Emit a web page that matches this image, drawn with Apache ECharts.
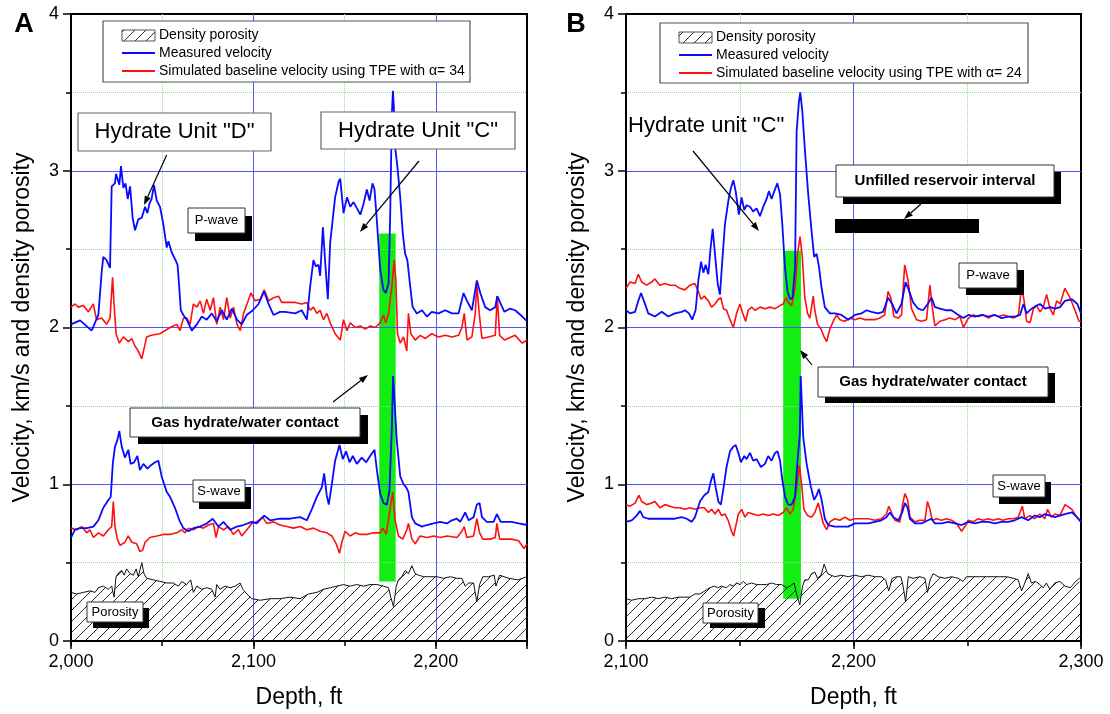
<!DOCTYPE html>
<html><head><meta charset="utf-8">
<script src="https://cdn.jsdelivr.net/npm/echarts@6/dist/echarts.min.js"></script>
<style>html,body{margin:0;padding:0;background:#fff}#c{width:1110px;height:714px}</style>
</head><body><div id="c"></div><script>
// ---------- DATA (depth ft, value) ----------
const A_P_MEAS=[[2000,2.02],[2005,2.045],[2011.3,1.98],[2015,2.08],[2016.8,2.35],[2017.7,2.45],[2019.5,2.43],[2021.4,2.38],[2022.3,2.9],[2024.1,2.92],[2024.7,2.98],[2026.5,2.91],[2027.4,3.03],[2028.7,2.89],[2029.9,2.92],[2031.1,2.82],[2032.4,2.9],[2033.8,2.7],[2035.1,2.62],[2036.9,2.69],[2038.8,2.7],[2040.6,2.77],[2041.9,2.73],[2043,2.79],[2044.2,2.82],[2045.5,2.91],[2047,2.81],[2048.8,2.77],[2050.6,2.66],[2052.5,2.51],[2053.4,2.55],[2055.2,2.48],[2057.3,2.43],[2058.4,2.4],[2059.2,2.28],[2060.2,2.11],[2061.6,2.08],[2063.5,2.05],[2066.2,1.98],[2069,2.02],[2071.7,2.07],[2074.4,2.05],[2077.2,2.09],[2079.9,2.04],[2082.7,2.11],[2085.4,2.05],[2088.2,2.12],[2091,2.05],[2093.6,2.02],[2096.3,2.08],[2099.7,2.11],[2102.8,2.15],[2105.9,2.23],[2108.3,2.15],[2111,2.08],[2114.6,2.1],[2117.4,2.1],[2122.9,2.09],[2126.5,2.11],[2129.3,2.05],[2131.1,2.26],[2132.9,2.43],[2134.2,2.39],[2135.7,2.4],[2136.6,2.33],[2138.1,2.64],[2139.4,2.41],[2140.8,2.18],[2142.1,2.54],[2143.4,2.68],[2144.8,2.83],[2146.7,2.93],[2147.6,2.95],[2149.4,2.73],[2151.3,2.83],[2153.1,2.77],[2154.9,2.8],[2156.8,2.76],[2158.6,2.72],[2160.4,2.79],[2162.2,2.88],[2163.7,2.81],[2165.3,2.92],[2166.4,2.88],[2167.7,2.68],[2169.5,2.37],[2171.3,2.24],[2172.6,2.22],[2174.1,2.28],[2175,2.72],[2175.9,3.36],[2176.5,3.51],[2177.3,3.34],[2177.9,3.13],[2179,3.02],[2180.5,2.83],[2181.9,2.6],[2183.2,2.47],[2184.4,2.43],[2186,2.26],[2187.3,2.13],[2189.6,2.09],[2192.4,2.11],[2195.1,2.07],[2197.8,2.1],[2201.5,2.09],[2205.2,2.11],[2208.8,2.09],[2212.5,2.09],[2215.2,2.22],[2217.1,2.17],[2219.8,2.11],[2222.5,2.3],[2224.4,2.22],[2227.1,2.13],[2229.8,2.11],[2232.6,2.13],[2233.7,2.2],[2237.6,2.1],[2240.5,2.12],[2243.5,2.11],[2247.4,2.07],[2250,2.04]];
const A_P_SIM=[[2000,2.13],[2002.2,2.15],[2004,2.13],[2006.8,2.14],[2009.5,2.1],[2012.2,2.15],[2014,2.05],[2016.8,2.06],[2019.5,2.02],[2021.4,2.06],[2022.8,2.32],[2023.6,2.15],[2024.7,1.96],[2026.5,1.9],[2028.7,1.94],[2031.5,1.91],[2033.3,1.93],[2035.1,1.88],[2036.4,1.86],[2038.8,1.8],[2041.5,1.94],[2044,1.95],[2048.8,1.96],[2054.3,2.0],[2057.9,2.02],[2059.8,1.98],[2061.6,2.06],[2063.5,2.06],[2065.3,2.02],[2067.1,2.15],[2069,2.13],[2070.8,2.17],[2072.6,2.09],[2074.4,2.18],[2076.3,2.11],[2078.1,2.19],[2079.9,2.02],[2081.8,2.13],[2083.6,2.05],[2085.4,2.19],[2087.3,2.06],[2089.1,2.13],[2091,2.02],[2092.8,1.98],[2094.6,2.09],[2096.5,2.15],[2098.6,2.22],[2101,2.17],[2103.7,2.18],[2105.9,2.24],[2108.3,2.17],[2111,2.19],[2113.8,2.2],[2115.5,2.16],[2119.2,2.16],[2122.9,2.16],[2126.5,2.15],[2129.3,2.16],[2131.1,2.11],[2132.9,2.13],[2134.8,2.09],[2136.6,2.11],[2138.4,2.05],[2140.3,2.09],[2142.1,2.03],[2144.8,1.96],[2147.6,1.92],[2149.4,2.05],[2151.3,1.98],[2153.1,2.03],[2155.8,2.0],[2158.6,2.01],[2161.3,1.99],[2164.1,2.01],[2166.8,2.0],[2169.5,2.03],[2171.3,2.08],[2172.6,2.03],[2174.1,2.09],[2175.9,2.26],[2177.2,2.43],[2178.1,2.3],[2179,1.96],[2180.5,1.9],[2182.3,1.94],[2184.1,1.85],[2185,2.09],[2186.3,1.96],[2188.7,1.92],[2191.5,1.95],[2194.2,1.93],[2197.8,1.96],[2201.5,1.94],[2205.2,1.95],[2208.8,1.94],[2212.5,1.95],[2214.3,2.0],[2215.6,2.09],[2217.1,1.92],[2219.8,1.94],[2221.6,2.09],[2222.5,2.27],[2223.8,2.09],[2225.3,1.93],[2228.9,1.94],[2232.6,1.95],[2233.7,2.2],[2235,1.95],[2237.6,1.92],[2243.5,1.95],[2247.4,1.9],[2250,1.92]];
const A_S_MEAS=[[2000,0.66],[2002.2,0.71],[2004.9,0.72],[2008.6,0.72],[2012.3,0.73],[2015,0.77],[2017.7,0.85],[2020.5,0.9],[2021.8,0.92],[2022.9,1.13],[2024.1,1.24],[2025.4,1.28],[2026.5,1.34],[2027.8,1.24],[2029.6,1.17],[2031.4,1.22],[2032.7,1.13],[2034.6,1.14],[2036.4,1.18],[2037.8,1.09],[2039.7,1.13],[2041.9,1.1],[2043.7,1.12],[2046.1,1.14],[2047.9,1.15],[2049.7,1.05],[2052.5,0.95],[2054.3,0.92],[2057,0.85],[2059.4,0.77],[2061.6,0.72],[2064.4,0.7],[2067.1,0.72],[2070.8,0.73],[2074.4,0.75],[2077.7,0.78],[2080.8,0.73],[2083.6,0.76],[2087.2,0.71],[2090.9,0.73],[2094.5,0.74],[2099.1,0.76],[2101.8,0.75],[2105.9,0.8],[2109.2,0.77],[2114.6,0.78],[2120.1,0.78],[2125.6,0.79],[2129.3,0.77],[2132,0.84],[2134.8,0.92],[2137.5,0.98],[2138.8,1.07],[2140.2,0.93],[2141.3,0.87],[2143,1.0],[2144.8,1.15],[2147.2,1.25],[2149,1.16],[2150.8,1.21],[2152.7,1.14],[2154.5,1.18],[2156.7,1.13],[2159.4,1.17],[2161.8,1.14],[2164,1.18],[2166.4,1.22],[2167.7,1.09],[2169.5,0.94],[2171.3,0.88],[2173.2,0.87],[2174.6,0.96],[2175.9,1.36],[2176.6,1.69],[2178.6,1.28],[2180.5,1.05],[2182.3,1.0],[2183.8,0.98],[2185,0.95],[2186.9,0.79],[2188.7,0.75],[2192.4,0.73],[2195.1,0.74],[2198.8,0.75],[2202.4,0.76],[2206.1,0.75],[2208.8,0.77],[2211.6,0.78],[2213.4,0.76],[2216.1,0.82],[2218,0.77],[2220.7,0.79],[2222.5,0.87],[2224,0.88],[2225.3,0.79],[2228,0.76],[2231.7,0.76],[2233.5,0.81],[2235.6,0.76],[2241.5,0.76],[2245.4,0.75],[2250,0.74]];
const A_S_SIM=[[2000,0.72],[2003.1,0.71],[2005.9,0.73],[2008.6,0.69],[2010.4,0.71],[2012.3,0.66],[2015,0.69],[2017.7,0.67],[2020.5,0.71],[2022.3,0.73],[2023.2,0.89],[2024.1,0.73],[2025.4,0.65],[2026.9,0.61],[2029.6,0.63],[2031.4,0.67],[2033.3,0.63],[2036,0.62],[2037.8,0.57],[2039.3,0.58],[2040.6,0.63],[2043.3,0.66],[2047,0.67],[2050.6,0.68],[2054.3,0.68],[2058,0.69],[2060.7,0.71],[2062.5,0.69],[2064.4,0.72],[2067.1,0.71],[2069.8,0.73],[2072.6,0.72],[2075.3,0.74],[2078.1,0.75],[2079.5,0.66],[2080.8,0.73],[2083.6,0.71],[2086.3,0.73],[2089,0.68],[2091.8,0.71],[2093.6,0.67],[2096.4,0.71],[2099.1,0.75],[2101.8,0.76],[2105.1,0.79],[2107.3,0.75],[2111,0.76],[2114.6,0.74],[2118.3,0.73],[2122,0.72],[2125.6,0.73],[2129.3,0.71],[2132.9,0.72],[2136.6,0.7],[2140.2,0.69],[2143,0.67],[2145.4,0.62],[2147.2,0.56],[2148.5,0.63],[2150.3,0.7],[2153,0.67],[2155.8,0.69],[2158.5,0.68],[2162.2,0.68],[2165.8,0.69],[2169.5,0.69],[2171,0.72],[2172.8,0.68],[2175,0.85],[2176.4,0.95],[2177.7,0.77],[2179.5,0.67],[2181.9,0.65],[2184.1,0.71],[2185,0.75],[2186.9,0.65],[2188.7,0.62],[2191.4,0.67],[2195.1,0.66],[2198.8,0.67],[2202.4,0.66],[2206.1,0.67],[2211.6,0.66],[2214.3,0.7],[2215.6,0.73],[2217,0.66],[2220.7,0.67],[2222.5,0.78],[2224,0.69],[2225.8,0.65],[2229.8,0.65],[2232.6,0.66],[2233.5,0.75],[2235,0.65],[2241.5,0.65],[2245.4,0.64],[2248.4,0.59],[2250,0.62]];
const A_POR=[[2000,0.31],[2003.1,0.3],[2006.8,0.31],[2010.4,0.32],[2013.2,0.31],[2015,0.34],[2017.7,0.35],[2020.5,0.33],[2022.3,0.35],[2023.6,0.28],[2024.7,0.41],[2026.5,0.44],[2027.8,0.45],[2029.1,0.42],[2030.5,0.46],[2032.4,0.43],[2034.2,0.42],[2035.7,0.46],[2036.9,0.41],[2038.8,0.5],[2040,0.43],[2041.5,0.4],[2045.2,0.39],[2048.8,0.38],[2052.5,0.37],[2056.1,0.37],[2058.9,0.35],[2060.7,0.38],[2063.4,0.36],[2065.6,0.39],[2067.1,0.31],[2068.9,0.35],[2071.7,0.33],[2074.4,0.34],[2077.2,0.33],[2079,0.28],[2079.9,0.36],[2081.7,0.33],[2084.5,0.35],[2087.2,0.34],[2090,0.35],[2092.7,0.37],[2094.2,0.33],[2096.4,0.3],[2099.1,0.27],[2103.7,0.26],[2109.2,0.27],[2114.6,0.27],[2120.1,0.28],[2125.6,0.27],[2130.2,0.3],[2134.8,0.31],[2138.4,0.33],[2142.1,0.34],[2145.7,0.35],[2149.4,0.36],[2153,0.35],[2156.7,0.36],[2160.4,0.35],[2164,0.36],[2167.7,0.36],[2171.3,0.35],[2174.1,0.34],[2175.3,0.28],[2176.8,0.22],[2178.3,0.35],[2179.5,0.39],[2181.4,0.41],[2183.2,0.45],[2185,0.43],[2186.9,0.48],[2188.7,0.43],[2190.5,0.42],[2193.3,0.41],[2196.9,0.41],[2200.6,0.41],[2204.2,0.4],[2207.9,0.41],[2211.6,0.4],[2214.3,0.4],[2216.1,0.35],[2218,0.37],[2220.7,0.37],[2222.5,0.25],[2224,0.36],[2225.8,0.41],[2228.9,0.41],[2232,0.42],[2233,0.35],[2235,0.42],[2240,0.4],[2245,0.39],[2250,0.41]];

const B_P_MEAS=[[2100,2.11],[2101.8,2.09],[2104,2.1],[2105.4,2.17],[2106.6,2.22],[2108.1,2.16],[2109.8,2.09],[2112.7,2.07],[2115.7,2.1],[2118.6,2.07],[2121.5,2.09],[2124.5,2.1],[2125.9,2.11],[2127.7,2.09],[2129.1,2.05],[2130.6,2.11],[2131.8,2.3],[2133,2.42],[2134,2.35],[2135,2.4],[2136.2,2.34],[2137.2,2.51],[2138.1,2.63],[2139.1,2.47],[2140.3,2.28],[2141.3,2.21],[2142.3,2.42],[2143.5,2.66],[2145,2.81],[2146.1,2.89],[2147.2,2.94],[2148.2,2.87],[2149.6,2.72],[2150.8,2.83],[2152,2.75],[2153,2.78],[2154.5,2.77],[2155.9,2.74],[2157.4,2.76],[2158.9,2.71],[2160.3,2.77],[2161.8,2.82],[2162.8,2.87],[2164,2.82],[2165.2,2.87],[2166.5,2.92],[2167.7,2.85],[2168.7,2.66],[2169.9,2.38],[2171,2.23],[2172.1,2.18],[2173.2,2.19],[2174.3,2.38],[2175,3.25],[2176,3.44],[2176.6,3.5],[2177.5,3.38],[2178.6,3.14],[2180.1,2.85],[2181.6,2.61],[2182.7,2.45],[2183.8,2.47],[2184.8,2.39],[2186,2.25],[2187.4,2.13],[2189.6,2.09],[2191.8,2.09],[2194.7,2.08],[2197.7,2.05],[2200.6,2.08],[2203.5,2.09],[2205.7,2.11],[2207.9,2.1],[2210.8,2.09],[2213,2.1],[2215.2,2.19],[2217,2.15],[2218.9,2.09],[2221.1,2.15],[2222.9,2.29],[2224.3,2.24],[2226.2,2.16],[2228.4,2.12],[2230.6,2.11],[2233.1,2.16],[2234.3,2.19],[2235.8,2.13],[2238,2.12],[2240.9,2.11],[2243.1,2.11],[2246.1,2.08],[2248.3,2.06],[2250.5,2.08],[2253.4,2.07],[2256.4,2.08],[2259.3,2.07],[2262.2,2.08],[2265.1,2.06],[2268.1,2.07],[2271,2.07],[2273.2,2.08],[2274.7,2.15],[2276.1,2.09],[2278.3,2.12],[2280.5,2.14],[2282,2.15],[2284.2,2.12],[2286.4,2.13],[2288.6,2.12],[2290.8,2.13],[2292.9,2.17],[2296,2.18],[2298.4,2.15],[2300,2.09]];
const B_P_SIM=[[2100,2.25],[2101.8,2.29],[2104,2.28],[2105.4,2.34],[2106.9,2.29],[2109.1,2.27],[2111.3,2.29],[2112.7,2.31],[2114.9,2.27],[2117.1,2.28],[2119.3,2.27],[2121.5,2.27],[2123.7,2.25],[2125.9,2.24],[2128.1,2.27],[2130.3,2.28],[2131.8,2.23],[2133,2.18],[2134.4,2.2],[2136.2,2.17],[2137.6,2.13],[2139.1,2.15],[2140.6,2.18],[2141.7,2.19],[2142.8,2.12],[2144.2,2.11],[2145.7,2.05],[2147.2,2.0],[2148.6,2.09],[2150.1,2.15],[2151.3,2.09],[2152.6,2.04],[2153.7,2.11],[2155.2,2.13],[2156.7,2.11],[2158.9,2.13],[2161.1,2.12],[2163.3,2.13],[2165.5,2.12],[2167.7,2.14],[2169.1,2.15],[2170.3,2.19],[2171.3,2.16],[2172.8,2.14],[2174.3,2.25],[2175.4,2.47],[2176.5,2.58],[2177.5,2.45],[2178.6,2.19],[2179.8,2.09],[2180.8,2.06],[2182.3,2.2],[2183,2.11],[2184.2,2.02],[2185.7,1.99],[2187.1,1.94],[2188.2,1.91],[2189.6,1.99],[2191.1,2.04],[2192.6,2.08],[2194,2.05],[2196.2,2.04],[2198.4,2.06],[2200.6,2.05],[2202.8,2.06],[2205,2.05],[2207.2,2.05],[2209.4,2.05],[2211.5,2.06],[2213.7,2.08],[2215.2,2.23],[2216.4,2.19],[2217.8,2.07],[2219.6,2.06],[2221.1,2.08],[2222.5,2.4],[2224,2.3],[2225.5,2.12],[2227.7,2.05],[2229.9,2.04],[2232.1,2.05],[2233.6,2.27],[2234.6,2.13],[2235.8,2.01],[2238,2.04],[2240.2,2.05],[2242.4,2.06],[2244.6,2.05],[2246.8,2.07],[2248.3,2.0],[2250.5,2.06],[2252.7,2.08],[2254.9,2.07],[2257.1,2.08],[2259.3,2.06],[2261.5,2.08],[2263.7,2.07],[2265.9,2.08],[2268.1,2.07],[2270.3,2.06],[2272.5,2.08],[2273.9,2.26],[2275,2.17],[2276.1,2.04],[2277.6,2.03],[2279.1,2.12],[2280.5,2.14],[2282,2.1],[2283.4,2.13],[2284.9,2.21],[2286.4,2.12],[2287.8,2.08],[2289.3,2.17],[2290.8,2.15],[2292.9,2.25],[2295.2,2.19],[2297.6,2.1],[2299.1,2.04],[2300,2.04]];
const B_S_MEAS=[[2100,0.76],[2102.5,0.77],[2104.7,0.8],[2106.2,0.83],[2107.6,0.79],[2109.8,0.78],[2112.7,0.78],[2115.7,0.78],[2118.6,0.78],[2121.5,0.78],[2124.5,0.79],[2126.7,0.78],[2128.9,0.76],[2130.3,0.79],[2132.5,0.89],[2134.4,0.93],[2136.2,0.95],[2137.3,1.02],[2138.4,1.07],[2139.4,0.98],[2140.6,0.89],[2141.7,0.87],[2142.9,0.98],[2144.2,1.11],[2145.7,1.21],[2147.2,1.24],[2148.2,1.25],[2149.4,1.2],[2150.5,1.14],[2152,1.18],[2153,1.16],[2154.5,1.2],[2155.9,1.15],[2157.4,1.16],[2159.3,1.11],[2161.1,1.13],[2162.5,1.18],[2164,1.15],[2165.5,1.2],[2166.6,1.21],[2167.7,1.15],[2168.7,1.03],[2169.9,0.92],[2171.3,0.87],[2172.8,0.87],[2174.3,0.92],[2175.4,1.15],[2176.4,1.32],[2176.8,1.69],[2177.9,1.3],[2179.4,1.13],[2181.3,0.98],[2182.7,0.9],[2183.8,0.93],[2184.8,0.97],[2186,0.9],[2187.4,0.78],[2188.9,0.74],[2191.8,0.73],[2194.8,0.73],[2197.7,0.73],[2200.6,0.75],[2203.5,0.75],[2206.5,0.75],[2209.4,0.76],[2212.3,0.77],[2214.5,0.79],[2216,0.82],[2217.5,0.79],[2219.7,0.77],[2221.4,0.82],[2222.6,0.88],[2223.8,0.85],[2224.8,0.78],[2227,0.75],[2229.9,0.75],[2232.8,0.77],[2234.3,0.78],[2235.8,0.75],[2238.7,0.75],[2241.6,0.76],[2244.6,0.75],[2247.5,0.74],[2250.4,0.76],[2253.3,0.75],[2256.3,0.76],[2259.2,0.76],[2262.1,0.75],[2265.1,0.76],[2268,0.76],[2270.9,0.77],[2273.9,0.79],[2276.8,0.77],[2279.7,0.8],[2281.9,0.79],[2284.1,0.81],[2286.3,0.8],[2288.5,0.79],[2290.7,0.8],[2293,0.81],[2296,0.82],[2298.2,0.79],[2300,0.76]];
const B_S_SIM=[[2100,0.87],[2101.8,0.86],[2104,0.88],[2105.7,0.93],[2106.9,0.89],[2109.1,0.87],[2111.3,0.88],[2112.7,0.89],[2114.9,0.85],[2117.1,0.87],[2119.3,0.86],[2121.5,0.85],[2123.7,0.85],[2125.9,0.84],[2128.1,0.85],[2130.3,0.84],[2132.5,0.85],[2134.4,0.85],[2136.2,0.82],[2137.6,0.84],[2139.1,0.81],[2140.6,0.84],[2142,0.8],[2143.5,0.81],[2144.9,0.77],[2146.4,0.7],[2147.3,0.67],[2148.2,0.73],[2149.4,0.81],[2150.8,0.84],[2152.3,0.79],[2153.7,0.82],[2155.9,0.81],[2158.1,0.8],[2160.3,0.81],[2162.5,0.8],[2164.7,0.81],[2166.9,0.8],[2169.1,0.82],[2170.6,0.85],[2172.1,0.81],[2173.5,0.84],[2175,0.98],[2176.2,1.12],[2177.2,1.0],[2178.2,0.84],[2179.8,0.8],[2181.6,0.79],[2183,0.82],[2184.5,0.88],[2185.7,0.81],[2186.7,0.75],[2188.2,0.71],[2189.6,0.76],[2191.8,0.78],[2194,0.77],[2196.2,0.79],[2198.4,0.77],[2200.6,0.78],[2203.5,0.78],[2206.5,0.78],[2209.4,0.77],[2212.3,0.78],[2214.5,0.81],[2215.5,0.86],[2216.7,0.82],[2218.2,0.77],[2220.4,0.76],[2221.7,0.88],[2222.6,0.94],[2223.8,0.9],[2224.8,0.79],[2227,0.76],[2229.2,0.77],[2231.4,0.77],[2232.5,0.89],[2233.6,0.84],[2234.6,0.77],[2236.5,0.78],[2238.7,0.77],[2240.9,0.78],[2243.1,0.77],[2245.3,0.75],[2247.5,0.7],[2249,0.73],[2250.4,0.77],[2252.6,0.76],[2254.8,0.78],[2257,0.77],[2259.2,0.78],[2261.4,0.77],[2263.6,0.78],[2265.8,0.77],[2268,0.78],[2270.2,0.78],[2272.4,0.79],[2274.2,0.86],[2275.3,0.78],[2277.5,0.8],[2279.7,0.78],[2281.9,0.81],[2284.1,0.78],[2285.3,0.84],[2287,0.79],[2288.5,0.81],[2290.7,0.8],[2293,0.87],[2296,0.84],[2298.2,0.79],[2300,0.76]];
const B_POR=[[2100,0.27],[2102.5,0.26],[2105.4,0.27],[2108.3,0.27],[2111.3,0.28],[2114.2,0.27],[2117.1,0.28],[2120.1,0.27],[2123,0.28],[2125.9,0.28],[2128.1,0.28],[2130.3,0.3],[2132.5,0.3],[2134.7,0.32],[2136.9,0.34],[2138.8,0.35],[2140.3,0.34],[2142,0.35],[2144.2,0.34],[2145.7,0.36],[2147.2,0.35],[2148.6,0.37],[2150.1,0.36],[2151.6,0.38],[2153,0.36],[2155.2,0.37],[2157.4,0.36],[2159.6,0.36],[2161.8,0.36],[2164,0.37],[2166.2,0.36],[2168.4,0.36],[2170.6,0.34],[2172.1,0.35],[2173.9,0.37],[2175,0.3],[2176.4,0.23],[2177.6,0.35],[2178.6,0.39],[2180.1,0.39],[2181.6,0.43],[2183,0.44],[2184.2,0.4],[2185.7,0.42],[2187.1,0.49],[2188.6,0.43],[2190.1,0.42],[2191.8,0.41],[2194.8,0.42],[2197.7,0.41],[2200.6,0.42],[2203.5,0.41],[2206.5,0.42],[2209.4,0.41],[2212.3,0.41],[2214.1,0.39],[2215.5,0.32],[2217,0.4],[2218.9,0.41],[2220.8,0.41],[2221.8,0.35],[2222.9,0.25],[2224.1,0.41],[2226.2,0.4],[2229.2,0.41],[2231.4,0.4],[2232.5,0.31],[2233.7,0.39],[2235,0.43],[2237.2,0.41],[2240.2,0.4],[2243.1,0.41],[2246,0.4],[2248.2,0.38],[2249.7,0.41],[2252.6,0.41],[2255.5,0.41],[2258.5,0.41],[2261.4,0.41],[2264.3,0.41],[2267.3,0.41],[2270.2,0.4],[2272.4,0.39],[2273.9,0.32],[2275.3,0.37],[2276.8,0.43],[2278.2,0.37],[2280,0.38],[2281.9,0.36],[2283.4,0.34],[2284.8,0.37],[2286.3,0.33],[2288.5,0.37],[2290.7,0.38],[2293,0.35],[2295.3,0.34],[2297.7,0.38],[2299.3,0.4],[2300,0.41]];

// green contact zones: [depthFrom, valueFrom, depthTo, valueTo]
const A_CONTACT=[2169,0.38,2178,2.6];
const B_CONTACT=[2169.1,0.27,2176.9,2.49];
const X_RANGE_A=[2000,2250], X_RANGE_B=[2100,2300];
const Y_RANGE=[0,4];
const NAME_MEAS='Measured velocity', NAME_POR='Density porosity';
const NAME_SIM_A='Simulated baseline velocity using TPE with \u03b1= 34';
const NAME_SIM_B='Simulated baseline velocity using TPE with \u03b1= 24';

// ---------- STYLE ----------
const FONT="'Liberation Sans', Arial, Helvetica, sans-serif";
const BLUE='#0a0aff', RED='#ff1010', GRIDBLUE='#5555ff', GRIDGREEN='#8fdc8f', GREEN='#12ee12', NONE='rgba(0,0,0,0)';

function hatchCanvas(){
  const c=document.createElement('canvas'); c.width=11; c.height=11;
  const g=c.getContext('2d'); g.strokeStyle='#2a2a2a'; g.lineWidth=1;
  g.beginPath(); g.moveTo(0,11); g.lineTo(11,0); g.moveTo(-1,1); g.lineTo(1,-1); g.moveTo(10,12); g.lineTo(12,10); g.stroke();
  return c;
}
const HATCH=hatchCanvas();
const fmt=v=> (v%100===0)? String(v).replace(/(\d)(?=(\d{3})+$)/g,'$1,') : '';

function yAxis(gi){
  return {type:'value',gridIndex:gi,min:Y_RANGE[0],max:Y_RANGE[1],interval:1,z:2,
    axisLine:{show:true,lineStyle:{color:'#000',width:2}},
    axisTick:{show:true,length:8,lineStyle:{color:'#000',width:1.5}},
    minorTick:{show:true,splitNumber:2,length:5,lineStyle:{color:'#000',width:1.5}},
    axisLabel:{fontSize:18,color:'#000',margin:12,fontFamily:FONT},
    splitLine:{show:true,showMinLine:false,showMaxLine:false,lineStyle:{color:GRIDBLUE,width:1}},
    minorSplitLine:{show:true,lineStyle:{color:GRIDGREEN,width:1,type:'dotted'}},
    name:'Velocity, km/s and density porosity',nameLocation:'middle',nameGap:37,
    nameTextStyle:{fontSize:23,color:'#000',fontFamily:FONT}};
}
function xMajor(gi,r){
  return {type:'value',gridIndex:gi,min:r[0],max:r[1],interval:100,position:'bottom',z:2,
    axisLine:{show:true,onZero:false,lineStyle:{color:'#000',width:2}},
    axisTick:{show:true,length:8,lineStyle:{color:'#000',width:1.5}},
    axisLabel:{fontSize:18,color:'#000',margin:12,fontFamily:FONT,formatter:fmt},
    splitLine:{show:true,showMinLine:false,showMaxLine:false,lineStyle:{color:GRIDBLUE,width:1}},
    name:'Depth, ft',nameLocation:'middle',nameGap:45,
    nameTextStyle:{fontSize:23,color:'#000',fontFamily:FONT}};
}
function xMinor(gi,r){
  // inner lines alternate: half-way lines green dotted, hundred lines left to the major axis
  return {type:'value',gridIndex:gi,min:r[0],max:r[1],interval:50,position:'bottom',offset:0,z:1,
    axisLine:{show:false,onZero:false},axisLabel:{show:false},
    axisTick:{show:true,length:5,lineStyle:{color:'#000',width:1.5}},
    splitLine:{show:true,showMinLine:false,showMaxLine:false,lineStyle:{color:[GRIDGREEN,NONE],width:1,type:'dotted'}}};
}
function ln(name,data,xi,yi,color,w,z){
  return {type:'line',name,data,xAxisIndex:xi,yAxisIndex:yi,symbol:'none',showSymbol:false,
    lineStyle:{color,width:w},itemStyle:{color},z,silent:true};
}
function porArea(data,xi,yi){
  return {type:'line',name:NAME_POR,data,xAxisIndex:xi,yAxisIndex:yi,symbol:'none',z:2,silent:true,
    lineStyle:{width:0,opacity:0},areaStyle:{color:{image:HATCH,repeat:'repeat'},opacity:1,origin:'start'}};
}
function contact(c,xi,yi){
  return {type:'line',data:[[c[0],c[1]]],xAxisIndex:xi,yAxisIndex:yi,symbol:'none',z:3,silent:true,
    markArea:{silent:true,itemStyle:{color:GREEN,opacity:1},data:[[{coord:[c[0],c[1]]},{coord:[c[2],c[3]]}]]}};
}

// ---------- ANNOTATIONS (pixel layout) ----------
const G=[];
function rect(x,y,w,h,fill,stroke,lw){G.push({type:'rect',z:100,shape:{x,y,width:w,height:h},style:{fill,stroke:stroke||null,lineWidth:lw||0}});}
function text(t,x,y,font,align){G.push({type:'text',z:101,style:{text:t,x,y,font,fill:'#000',align:align||'center',verticalAlign:'middle',textAlign:align||'center',textVerticalAlign:'middle'}});}
function arrow(x1,y1,x2,y2){
  const a=Math.atan2(y2-y1,x2-x1),L=9,W=3.2;
  const bx=x2-L*Math.cos(a),by=y2-L*Math.sin(a),px=-Math.sin(a)*W,py=Math.cos(a)*W;
  G.push({type:'line',z:100,shape:{x1,y1,x2:bx,y2:by},style:{stroke:'#000',lineWidth:1.2}});
  G.push({type:'polygon',z:100,shape:{points:[[x2,y2],[bx+px,by+py],[bx-px,by-py]]},style:{fill:'#000'}});
}
function shadowBox(x,y,w,h,dx,dy,t,font){
  rect(x+dx,y+dy,w,h,'#000'); rect(x,y,w,h,'#fff','#333',1); text(t,x+w/2,y+h/2,font);
}
function legend(x,y,w,h,simName){
  rect(x,y,w,h,'#fff','#555',1.2);
  const sx=x+19, tx=x+56;
  G.push({type:'rect',z:101,shape:{x:sx,y:y+9,width:33,height:11},style:{fill:{image:HATCH,repeat:'repeat'},stroke:'#555',lineWidth:1}});
  G.push({type:'line',z:101,shape:{x1:sx,y1:y+32,x2:sx+33,y2:y+32},style:{stroke:BLUE,lineWidth:2}});
  G.push({type:'line',z:101,shape:{x1:sx,y1:y+50,x2:sx+33,y2:y+50},style:{stroke:RED,lineWidth:2}});
  text(NAME_POR,tx,y+14.5,'14px '+FONT,'left');
  text(NAME_MEAS,tx,y+32,'14px '+FONT,'left');
  text(simName,tx,y+50.5,'14px '+FONT,'left');
}
// panel letters
text('A',24,25,'bold 27px '+FONT); text('B',576,25,'bold 27px '+FONT);
// panel A
legend(103,21,367,61,NAME_SIM_A);
rect(78,113,193,38,'#fff','#666',1.2); text('Hydrate Unit "D"',174.5,132,'22px '+FONT);
rect(321,112,194,37,'#fff','#666',1.2); text('Hydrate Unit "C"',418,130.5,'22px '+FONT);
arrow(166.7,155,144,205); arrow(419,161,360,232);
shadowBox(188,208,57,25,7,8,'P-wave','13px '+FONT);
shadowBox(193,480,52,22,6,7,'S-wave','13px '+FONT);
shadowBox(87,602,56,20,6,6,'Porosity','13px '+FONT);
shadowBox(130,408,230,29,8,7,'Gas hydrate/water contact','bold 15px '+FONT);
arrow(333,402,368,375);
// panel B
legend(660,23,368,60,NAME_SIM_B);
text('Hydrate unit "C"',628,126,'22px '+FONT,'left');
arrow(693,151,759,231);
shadowBox(836,165,218,32,7,7,'Unfilled reservoir interval','bold 15px '+FONT);
rect(835,219,144,14,'#000');
arrow(921,204,904,219);
shadowBox(959,263,58,25,7,7,'P-wave','13px '+FONT);
shadowBox(818,367,230,30,7,6,'Gas hydrate/water contact','bold 15px '+FONT);
arrow(812,365,800,350);
shadowBox(993,475,52,22,6,7,'S-wave','13px '+FONT);
shadowBox(703,603,55,20,7,5,'Porosity','13px '+FONT);

const option={
  animation:false,backgroundColor:'#fff',
  grid:[{left:71,top:14,width:456,height:627,show:true,borderColor:'#000',borderWidth:2,backgroundColor:'transparent'},
        {left:626,top:14,width:455,height:627,show:true,borderColor:'#000',borderWidth:2,backgroundColor:'transparent'}],
  xAxis:[xMajor(0,X_RANGE_A),xMinor(0,X_RANGE_A),xMajor(1,X_RANGE_B),xMinor(1,X_RANGE_B)],
  yAxis:[yAxis(0),yAxis(1)],
  series:[
    porArea(A_POR,0,0), contact(A_CONTACT,0,0),
    ln(NAME_POR,A_POR,0,0,'#111',1,4),
    ln(NAME_SIM_A,A_P_SIM,0,0,RED,1.6,5), ln(NAME_SIM_A,A_S_SIM,0,0,RED,1.6,5),
    ln(NAME_MEAS,A_P_MEAS,0,0,BLUE,1.8,6), ln(NAME_MEAS,A_S_MEAS,0,0,BLUE,1.8,6),
    porArea(B_POR,2,1), contact(B_CONTACT,2,1),
    ln(NAME_POR,B_POR,2,1,'#111',1,4),
    ln(NAME_SIM_B,B_P_SIM,2,1,RED,1.6,5), ln(NAME_SIM_B,B_S_SIM,2,1,RED,1.6,5),
    ln(NAME_MEAS,B_P_MEAS,2,1,BLUE,1.8,6), ln(NAME_MEAS,B_S_MEAS,2,1,BLUE,1.8,6)
  ],
  graphic:G
};
const chart=echarts.init(document.getElementById('c'),null,{renderer:'canvas'});
chart.setOption(option);
</script></body></html>
